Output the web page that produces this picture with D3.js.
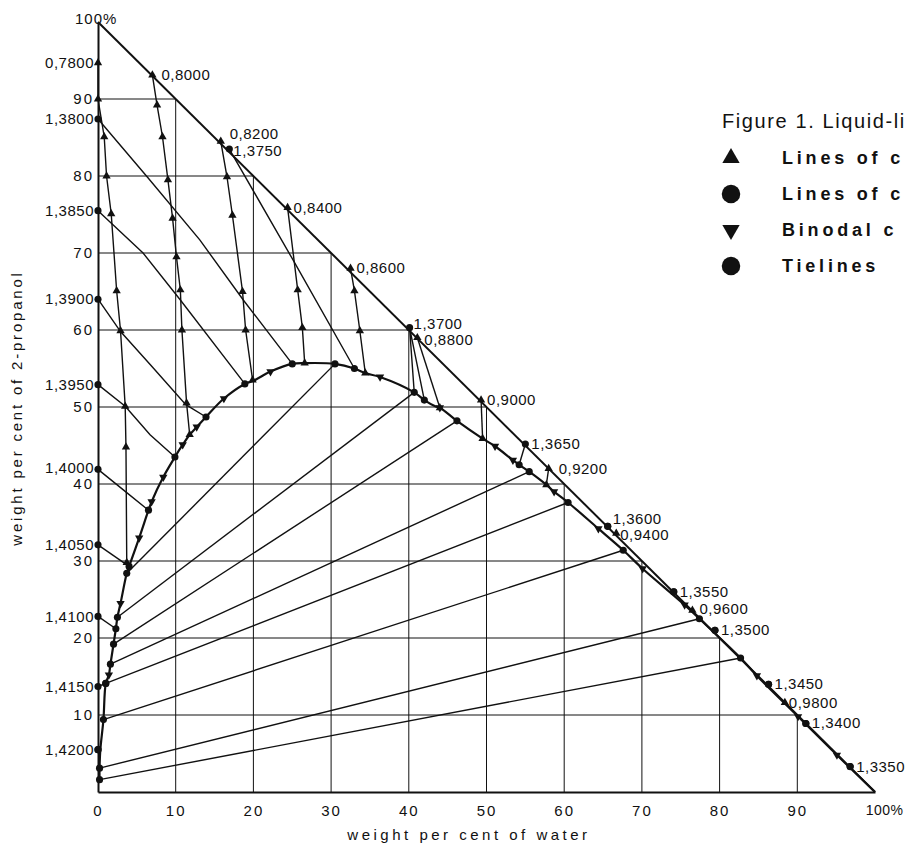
<!DOCTYPE html>
<html>
<head>
<meta charset="utf-8">
<script src="https://cdn.jsdelivr.net/npm/d3@7"></script>
<style>
  body { margin: 0; background: #fff; }
  svg { display: block; font-family: 'Liberation Sans', Arial, sans-serif; }
</style>
</head>
<body>
<svg id="chart" width="905" height="846"></svg>
<script>
// all points are [weight % water, weight % 2-propanol]

const gridTicks = [10, 20, 30, 40, 50, 60, 70, 80, 90];
const xTicks = [0, 10, 20, 30, 40, 50, 60, 70, 80, 90, 100];

// binodal curve, in order from the propanol-poor end round to the water corner
const binodal = [
  [0.2, 1.6], [0.2, 3.1], [0.3, 5.5], [0.7, 9.4], [1.0, 14.1], [1.4, 15.2], [1.6, 16.6],
  [2.0, 19.2], [2.3, 21.2], [2.5, 22.7], [2.9, 24.5], [3.7, 28.4], [4.0, 29.3], [5.3, 33.0],
  [6.5, 36.6], [6.9, 37.7], [8.4, 40.9], [9.9, 43.5], [10.9, 45.1], [11.8, 46.4], [12.7, 47.4],
  [13.9, 48.7], [16.2, 51.1], [18.9, 53.0], [20.0, 53.4], [22.2, 54.6], [25.0, 55.6],
  [26.6, 55.7], [30.5, 55.6], [33.0, 55.0], [34.4, 54.4], [36.3, 53.9], [40.7, 51.9],
  [42.0, 50.9], [43.4, 50.1], [44.0, 49.9], [46.2, 48.2], [49.5, 45.9], [51.1, 44.9],
  [53.4, 43.1], [54.2, 42.5], [55.5, 41.6], [57.7, 39.9], [58.7, 39.0], [60.5, 37.6],
  [64.4, 34.2], [67.6, 31.4], [70.1, 29.0], [75.5, 24.3], [77.4, 22.5], [82.7, 17.4],
  [84.8, 15.1], [90.1, 9.8], [95.1, 4.8], [100, 0]
];

// measured binodal points (down triangles)
const binodalPoints = [
  [1.4, 15.2], [2.9, 24.5], [5.3, 33.0], [6.9, 37.7], [8.4, 40.9], [10.9, 45.1], [12.7, 47.4],
  [16.2, 51.1], [22.2, 54.6], [36.3, 53.9], [44.0, 49.9], [51.1, 44.9], [53.4, 43.1],
  [58.7, 39.0], [64.4, 34.2], [70.1, 29.0], [75.5, 24.3], [84.8, 15.1], [90.1, 9.8], [95.1, 4.8]
];

// lines of constant density (up triangles), first point carries the label
const densityLabels = ['0,7800', '0,8000', '0,8200', '0,8400', '0,8600', '0,8800',
  '0,9000', '0,9200', '0,9400', '0,9600', '0,9800'];
const densityLines = [
  [[0, 94.7], [0, 90.0], [0.8, 85.1], [1.1, 80.0], [1.7, 75.1], [2.4, 65.1], [2.9, 59.9],
   [3.5, 50.1], [3.6, 44.8], [3.7, 29.8]],
  [[7.0, 93.1], [7.6, 89.2], [8.3, 85.1], [9.0, 79.5], [9.6, 74.5], [10.1, 69.5],
   [10.6, 65.2], [10.8, 60.0], [11.4, 50.5], [11.8, 46.4]],
  [[15.8, 84.5], [16.6, 79.9], [17.3, 74.9], [18.6, 65.0], [19.0, 60.0], [19.9, 53.5]],
  [[24.4, 75.9], [25.7, 65.2], [26.3, 60.3], [26.6, 55.7]],
  [[32.5, 68.0], [33.0, 65.1], [33.7, 59.9], [34.4, 54.4]],
  [[41.1, 59.0], [44.0, 49.9]],
  [[49.3, 50.9], [49.5, 45.9]],
  [[58.0, 42.0], [57.7, 39.9]],
  [[66.7, 33.6]],
  [[76.5, 23.6]],
  [[88.4, 11.6]]
];

// lines of constant refractive index (circles)
const refractiveLabels = ['1,3800', '1,3850', '1,3900', '1,3950', '1,4000', '1,4050',
  '1,4100', '1,4150', '1,4200', '1,3750', '1,3700', '1,3650', '1,3600', '1,3550',
  '1,3500', '1,3450', '1,3400', '1,3350'];
const refractiveLines = [
  [[0, 87.4], [6.4, 79.8], [13.1, 71.7], [18.7, 63.9], [25.0, 55.6]],
  [[0, 75.5], [5.8, 70.0], [10.6, 63.9], [18.9, 53.0]],
  [[0, 64.0], [2.9, 59.8], [7.0, 55.2], [11.3, 50.3], [13.9, 48.7]],
  [[0, 52.9], [3.5, 50.1], [6.7, 46.4], [9.9, 43.5]],
  [[0, 41.9], [3.3, 39.2], [6.5, 36.6]],
  [[0, 32.1], [4.0, 29.3]],
  [[0, 22.8], [2.3, 21.2]],
  [[0, 13.7], [1.0, 14.1]],
  [[0, 5.5]],
  [[16.9, 83.5], [25.1, 69.1], [33.0, 55.0]],
  [[40.1, 60.3], [40.7, 51.9], [40.1, 60.3], [42.0, 50.9]],
  [[55.0, 45.2], [54.2, 42.5]],
  [[65.6, 34.5]],
  [[74.1, 26.0]],
  [[79.4, 21.0]],
  [[86.3, 14.0]],
  [[91.1, 8.9]],
  [[96.8, 3.3]]
];

// tielines, propanol-poor end to water-rich end
const tielines = [
  [[0.2, 1.6], [82.7, 17.4]],
  [[0.2, 3.1], [77.4, 22.5]],
  [[0.7, 9.4], [67.6, 31.4]],
  [[1.0, 14.1], [60.5, 37.6]],
  [[1.6, 16.6], [55.5, 41.6]],
  [[2.0, 19.2], [46.2, 48.2]],
  [[2.5, 22.7], [40.7, 51.9]],
  [[3.7, 28.4], [30.5, 55.6]]
];

// caption and legend text as far as the page shows it (cut by the right edge)
const captionText = 'Figure 1. Liquid-li';
const legendItems = ['Lines of c', 'Lines of c ', 'Binodal c', 'Tielines'];
const legendSymbols = ['up', 'circle', 'down', 'circle'];

// label placement tweaks where neighbours would collide
const labelNudge = {
  '0,8000': [9, 5], '0,8200': [9, -2], '1,3750': [4, 7], '1,3700': [4, 1],
  '0,8800': [7, 7], '0,9200': [10, 5], '1,3600': [5, -2], '0,9400': [4, 7],
  '0,9600': [7, 4], '0,9800': [4, 5], '1,4000': [0, -2]
};

const svg = d3.select('#chart');
const x = d3.scaleLinear().domain([0, 100]).range([98, 875]);
const y = d3.scaleLinear().domain([0, 100]).range([792, 22]);
const ink = '#111';

// grid, clipped to the triangle
const grid = svg.append('g').attr('stroke', ink).attr('stroke-width', 1);
grid.selectAll('line.h').data(gridTicks).join('line')
  .attr('class', 'h')
  .attr('x1', x(0)).attr('x2', d => x(100 - d))
  .attr('y1', d => y(d)).attr('y2', d => y(d));
grid.selectAll('line.v').data(gridTicks).join('line')
  .attr('class', 'v')
  .attr('y1', y(0)).attr('y2', d => y(100 - d))
  .attr('x1', d => x(d)).attr('x2', d => x(d));

// axes
const xAxis = svg.append('g')
  .attr('transform', `translate(0,${y(0)})`)
  .call(d3.axisBottom(x).tickValues(xTicks).tickSize(0).tickPadding(13)
    .tickFormat(d => d === 100 ? '100%' : d));
const yAxis = svg.append('g')
  .attr('transform', `translate(${x(0)},0)`)
  .call(d3.axisLeft(y).tickValues(gridTicks).tickSize(0).tickPadding(4));
[xAxis, yAxis].forEach(a => {
  a.select('.domain').attr('stroke', ink).attr('stroke-width', 2);
  a.selectAll('text').attr('fill', ink).style('font-size', '15px')
    .style('letter-spacing', '2px').style('font-family', null);
});
xAxis.selectAll('.tick text').filter(d => d === 100)
  .attr('text-anchor', 'end').attr('x', 903 - x(100))
  .style('font-size', '14px').style('letter-spacing', '0.5px');

svg.append('text')
  .attr('x', 75).attr('y', 24)
  .style('font-size', '15px').style('letter-spacing', '1px')
  .attr('fill', ink).text('100%');

// hypotenuse (binary water / 2-propanol side)
svg.append('line')
  .attr('x1', x(0)).attr('y1', y(100)).attr('x2', x(100)).attr('y2', y(0))
  .attr('stroke', ink).attr('stroke-width', 2);

const straight = d3.line().x(d => x(d[0])).y(d => y(d[1]));
const smooth = d3.line().x(d => x(d[0])).y(d => y(d[1])).curve(d3.curveCatmullRom.alpha(0.5));

// tielines
svg.append('g').selectAll('path').data(tielines).join('path')
  .attr('d', straight).attr('fill', 'none').attr('stroke', ink).attr('stroke-width', 1.4);

// iso-lines
svg.append('g').selectAll('path').data(refractiveLines.filter(l => l.length > 1)).join('path')
  .attr('d', straight).attr('fill', 'none').attr('stroke', ink).attr('stroke-width', 1.4);
svg.append('g').selectAll('path').data(densityLines.filter(l => l.length > 1)).join('path')
  .attr('d', straight).attr('fill', 'none').attr('stroke', ink).attr('stroke-width', 1.4);

// binodal curve
svg.append('path').datum(binodal)
  .attr('d', smooth).attr('fill', 'none').attr('stroke', ink).attr('stroke-width', 2.2);

// markers
const triUp = d3.symbol(d3.symbolTriangle, 30);
const circ = d3.symbol(d3.symbolCircle, 40);

function drawSymbols(pts, gen, rotate) {
  svg.append('g').selectAll('path').data(pts).join('path')
    .attr('d', gen)
    .attr('transform', d => `translate(${x(d[0])},${y(d[1])})${rotate ? ' rotate(180)' : ''}`)
    .attr('fill', ink);
}

drawSymbols(binodalPoints, triUp, true);
drawSymbols(densityLines.flat(), triUp, false);
drawSymbols(refractiveLines.map(l => [l[0], l[l.length - 1]]).flat(), circ, false);
drawSymbols(tielines.flat(), circ, false);

// point labels
function drawLabels(lines, labels) {
  const g = svg.append('g').attr('fill', ink)
    .style('font-size', '15px').style('letter-spacing', '0.5px');
  lines.forEach((l, i) => {
    const p = l[0];
    const n = labelNudge[labels[i]];
    const t = g.append('text').text(labels[i]);
    if (p[0] === 0) {
      t.attr('x', x(0) - 4).attr('y', y(p[1]) + (n ? n[1] : 0))
        .attr('dy', '0.35em').attr('text-anchor', 'end');
    } else {
      const m = n || [6, 5];
      t.attr('x', x(p[0]) + m[0]).attr('y', y(p[1]) + m[1]);
    }
  });
}
drawLabels(densityLines, densityLabels);
drawLabels(refractiveLines, refractiveLabels);

// axis titles
svg.append('text')
  .attr('x', 469).attr('y', 840).attr('text-anchor', 'middle')
  .style('font-size', '15px').style('letter-spacing', '3.5px')
  .attr('fill', ink).text('weight per cent of water');
svg.append('text')
  .attr('transform', 'translate(22,408) rotate(-90)').attr('text-anchor', 'middle')
  .style('font-size', '15px').style('letter-spacing', '2.8px')
  .attr('fill', ink).text('weight per cent of 2-propanol');

// caption and legend
const legend = svg.append('g').attr('fill', ink);
legend.append('text')
  .attr('x', 722).attr('y', 128)
  .style('font-size', '20px').style('letter-spacing', '1.6px')
  .text(captionText);
const rowY = d3.scalePoint().domain(legendItems).range([158, 266]);
legendItems.forEach((item, i) => {
  const cy = rowY(item);
  const kind = legendSymbols[i];
  legend.append('path')
    .attr('d', kind === 'circle' ? d3.symbol(d3.symbolCircle, 270)() : d3.symbol(d3.symbolTriangle, 130)())
    .attr('transform', `translate(731,${cy})${kind === 'down' ? ' rotate(180)' : ''}`);
  legend.append('text')
    .attr('x', 782).attr('y', cy).attr('dy', '0.36em')
    .style('font-size', '18px').style('font-weight', 'bold').style('letter-spacing', '3.8px')
    .text(item.trim());
});
</script>
</body>
</html>
